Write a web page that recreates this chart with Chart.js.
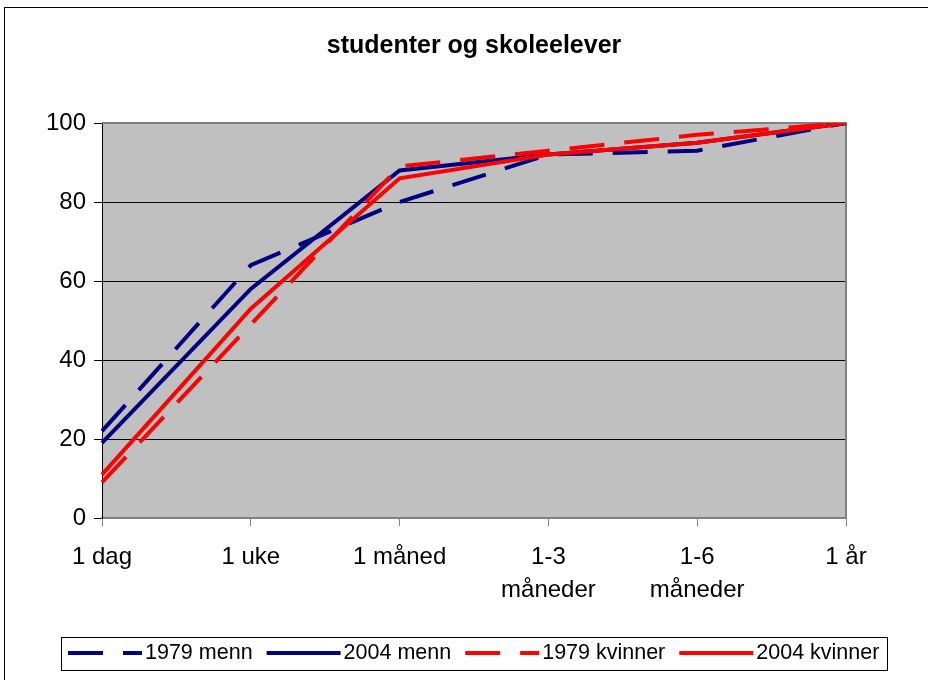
<!DOCTYPE html>
<html>
<head>
<meta charset="utf-8">
<script src="https://cdn.jsdelivr.net/npm/chart.js@4"></script>
<style>body{margin:0;background:#fff}</style>
</head>
<body>
<canvas id="chart" width="928" height="680"></canvas>
<script>
const categories = ['1 dag', '1 uke', '1 måned', ['1-3', 'måneder'], ['1-6', 'måneder'], '1 år'];
const menn1979 = [22, 64, 80, 92, 93, 100];
const menn2004 = [19, 58, 88, 92, 95, 100];
const kvinner1979 = [9, 49, 89, 93, 97, 100];
const kvinner2004 = [11, 53, 86, 92, 95, 100];
const yTicks = [0, 20, 40, 60, 80, 100];

const FONT = '"Liberation Sans", Arial, sans-serif';
const navy = '#000080';
const red = '#ff0000';
const dash = [35, 20];

// white page, thin frame and grey plot area
const backdrop = {
  id: 'backdrop',
  beforeDraw(chart) {
    const {ctx, chartArea: a} = chart;
    ctx.save();
    ctx.fillStyle = '#fff';
    ctx.fillRect(0, 0, chart.width, chart.height);
    ctx.strokeStyle = '#000';
    ctx.lineWidth = 1;
    ctx.strokeRect(4.5, 7.5, 1000, 1000);
    ctx.fillStyle = '#c0c0c0';
    ctx.fillRect(a.left, a.top, a.right - a.left, a.bottom - a.top);
    ctx.restore();
  },
  beforeDatasetsDraw(chart) {
    const {ctx, chartArea: a} = chart;
    ctx.save();
    ctx.strokeStyle = '#808080';
    ctx.lineWidth = 2;
    ctx.beginPath();
    ctx.moveTo(a.left, a.top);
    ctx.lineTo(a.right, a.top);
    ctx.lineTo(a.right, a.bottom);
    ctx.stroke();
    ctx.restore();
  }
};

// legend drawn as in the original: long line samples in a framed box
const legendBox = {
  id: 'legendBox',
  afterDraw(chart) {
    const ctx = chart.ctx;
    const y = 653;
    let x = 68;
    ctx.save();
    ctx.font = '21.5px ' + FONT;
    ctx.textBaseline = 'middle';
    chart.data.datasets.forEach(ds => {
      ctx.beginPath();
      ctx.setLineDash(ds.borderDash || []);
      ctx.strokeStyle = ds.borderColor;
      ctx.lineWidth = ds.borderWidth;
      ctx.moveTo(x, y);
      ctx.lineTo(x + 74, y);
      ctx.stroke();
      ctx.setLineDash([]);
      ctx.fillStyle = '#000';
      ctx.fillText(ds.label, x + 77, y);
      x += 77 + ctx.measureText(ds.label).width + 14;
    });
    ctx.strokeStyle = '#000';
    ctx.lineWidth = 1;
    ctx.strokeRect(61.5, 637.5, Math.round(x - 6) - 61, 33);
    ctx.restore();
  }
};

const data = {
  labels: categories,
  datasets: [
    {label: '1979 menn', data: menn1979, borderColor: navy, borderDash: dash, order: 4},
    {label: '2004 menn', data: menn2004, borderColor: navy, order: 3},
    {label: '1979 kvinner', data: kvinner1979, borderColor: red, borderDash: dash, order: 2},
    {label: '2004 kvinner', data: kvinner2004, borderColor: red, order: 1}
  ].map(d => Object.assign({borderWidth: 4, pointRadius: 0, tension: 0, fill: false, borderCapStyle: 'butt'}, d))
};

const config = {
  type: 'line',
  data: data,
  options: {
    responsive: false,
    animation: false,
    layout: {
      padding: {left: 0, right: 82, top: 0, bottom: 62}
    },
    scales: {
      x: {
        offset: false,
        afterFit: s => { s.height = 100; },
        grid: {
          drawOnChartArea: false,
          drawTicks: true,
          tickLength: 8,
          color: '#808080'
        },
        border: {color: '#808080', width: 2},
        ticks: {
          color: '#000',
          padding: 15,
          maxRotation: 0,
          autoSkip: false,
          font: {family: FONT, size: 24, lineHeight: 1.375}
        }
      },
      y: {
        min: 0,
        max: 100,
        afterFit: s => { s.width = 102; },
        afterBuildTicks: s => { s.ticks = yTicks.map(v => ({value: v})); },
        grid: {color: '#000', lineWidth: 1, tickLength: 8},
        border: {color: '#000', width: 1},
        ticks: {
          color: '#000',
          padding: 8,
          font: {family: FONT, size: 24}
        }
      }
    },
    plugins: {
      legend: {display: false},
      tooltip: {enabled: false},
      title: {
        display: true,
        fullSize: false,
        text: 'studenter og skoleelever',
        color: '#000',
        font: {family: FONT, size: 25, weight: 'bold', lineHeight: 1.2},
        padding: {top: 31, bottom: 62}
      }
    }
  },
  plugins: [backdrop, legendBox]
};

var myChart = new Chart(document.getElementById('chart'), config);
</script>
</body>
</html>
